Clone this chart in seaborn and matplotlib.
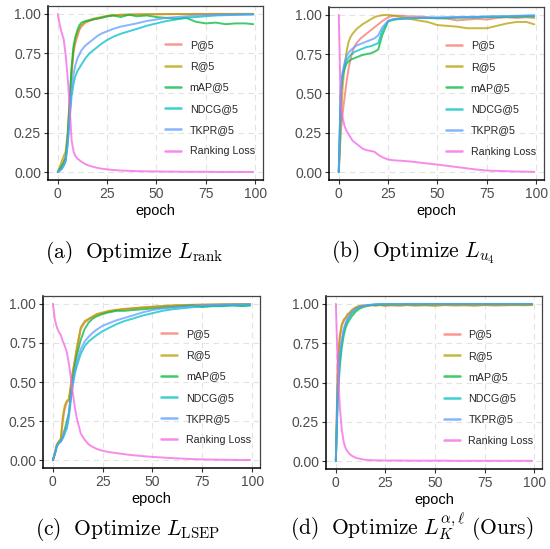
import numpy as np
import pandas as pd
import matplotlib
matplotlib.use("Agg")
import matplotlib.pyplot as plt
import seaborn as sns

# ---------------- data ----------------
epochs = [0, 1, 2, 3, 4, 5, 6, 7, 8, 9, 10, 11, 12, 14, 16, 18, 20, 22, 25, 28,
          32, 36, 40, 45, 50, 55, 60, 65, 70, 75, 80, 85, 90, 95, 99]
series_names = ["P@5", "R@5", "mAP@5", "NDCG@5", "TKPR@5", "Ranking Loss"]
palette = ["#F8766D", "#B79F00", "#00BA38", "#00BFC4", "#619CFF", "#F564E3"]

# (a) Optimize L_rank
a_p = [0, .01, .04, .07, .1, .22, .42, .62, .76, .82, .86, .9, .92, .945, .955, .965, .97, .975, .985, .99,
       .993, .995, .996, .997, .998, .998, .999, .999, .999, .999, 1, 1, 1, 1, 1]
a_r = [0, .03, .07, .1, .13, .25, .45, .65, .78, .84, .88, .91, .93, .95, .96, .97, .975, .98, .988, .992,
       .995, .996, .997, .998, .998, .999, .999, .999, 1, 1, 1, 1, 1, 1, 1]
a_map = [0, .02, .04, .06, .09, .22, .44, .66, .8, .86, .9, .93, .945, .955, .96, .965, .97, .975, .985, .99,
         .98, .995, .985, .99, .98, .975, .97, .975, .95, .94, .945, .935, .94, .94, .935]
a_ndcg = [0, .01, .02, .04, .07, .17, .33, .48, .56, .61, .64, .66, .68, .72, .75, .77, .79, .81, .835, .855,
          .875, .89, .905, .925, .94, .955, .965, .975, .98, .985, .99, .992, .994, .995, .996]
a_tkpr = [0, .01, .02, .04, .07, .18, .36, .53, .62, .68, .72, .745, .77, .8, .82, .84, .86, .875, .89, .905,
          .92, .93, .94, .955, .965, .975, .98, .985, .99, .992, .994, .995, .996, .997, .998]
a_loss = [1, .93, .88, .84, .74, .6, .42, .2, .13, .1, .085, .075, .065, .05, .04, .033, .027, .022, .017, .013,
          .01, .008, .006, .005, .004, .003, .003, .002, .002, .002, .001, .001, .001, .001, .001]

# (b) Optimize L_u4
b_p = [0, .25, .38, .48, .58, .66, .72, .77, .8, .82, .835, .85, .86, .88, .9, .92, .94, .96, .985, .995,
       .995, .99, .99, .985, .98, .975, .965, .97, .975, .97, .98, .985, .98, .985, .98]
b_r = [0, .3, .55, .68, .77, .83, .86, .88, .895, .91, .92, .93, .94, .955, .97, .985, .993, .998, 1, .995,
       .985, .975, .965, .955, .935, .93, .925, .915, .915, .915, .93, .945, .955, .955, .94]
b_map = [0, .5, .62, .66, .69, .705, .715, .72, .725, .73, .735, .74, .745, .75, .755, .765, .78, .87, .96, .97,
         .975, .978, .98, .98, .978, .98, .982, .983, .984, .985, .986, .987, .988, .989, .99]
b_ndcg = [0, .52, .63, .68, .71, .73, .745, .755, .765, .77, .775, .78, .785, .795, .8, .81, .82, .9, .96, .972,
          .976, .978, .98, .98, .98, .982, .984, .985, .986, .988, .99, .99, .992, .994, .995]
b_tkpr = [0, .5, .64, .7, .74, .76, .775, .785, .795, .805, .81, .815, .82, .83, .84, .85, .87, .92, .962, .975,
          .978, .98, .982, .983, .984, .985, .986, .987, .988, .99, .991, .992, .994, .996, .997]
b_loss = [1, .42, .34, .29, .26, .24, .22, .2, .19, .18, .17, .16, .15, .14, .135, .13, .11, .095, .08, .075,
          .072, .068, .062, .055, .048, .04, .032, .024, .016, .01, .008, .006, .004, .003, .002]

# (c) Optimize L_LSEP
c_p = [0, .04, .1, .12, .13, .25, .33, .37, .38, .47, .56, .63, .7, .84, .88, .9, .915, .93, .94, .95,
       .96, .965, .97, .975, .98, .985, .988, .99, .992, .994, .995, .996, .997, .998, .998]
c_r = [0, .05, .1, .12, .14, .28, .35, .38, .39, .48, .57, .64, .72, .85, .89, .905, .92, .935, .945, .955,
       .962, .968, .972, .978, .982, .986, .99, .992, .994, .995, .996, .997, .998, .998, .999]
c_map = [0, .04, .09, .11, .12, .15, .2, .25, .3, .42, .52, .6, .67, .77, .84, .88, .905, .92, .935, .945,
         .955, .955, .96, .965, .97, .975, .98, .985, .99, .98, .985, .985, .99, .985, .99]
c_ndcg = [0, .04, .09, .11, .12, .14, .17, .21, .27, .38, .48, .55, .6, .68, .73, .76, .78, .8, .825, .845,
          .87, .89, .905, .925, .94, .955, .965, .972, .978, .982, .986, .988, .99, .99, .99]
c_tkpr = [0, .04, .09, .11, .12, .15, .19, .2, .3, .4, .5, .57, .63, .71, .76, .79, .815, .835, .86, .875,
          .895, .91, .925, .945, .96, .97, .976, .982, .986, .99, .992, .994, .995, .996, .997]
c_loss = [1, .9, .85, .82, .8, .76, .73, .69, .62, .53, .43, .34, .27, .17, .13, .1, .085, .072, .06, .052,
          .045, .038, .032, .026, .021, .017, .013, .01, .007, .005, .004, .003, .002, .001, .001]

# (d) Optimize L_K^{alpha,l} (Ours)
d_p = [0, .6, .78, .86, .89, .91, .93, .94, .955, .965, .975, .98, .985, .99, .99, .992, .99, .993, .99, .992,
       .99, .993, .99, .992, .99, .993, .991, .992, .99, .993, .991, .992, .993, .992, .993]
d_r = [0, .62, .8, .87, .9, .915, .935, .945, .96, .97, .978, .983, .987, .99, .988, .991, .989, .992, .988, .991,
       .989, .992, .989, .991, .988, .992, .99, .991, .989, .992, .99, .991, .992, .991, .992]
d_map = [0, .4, .6, .72, .8, .85, .88, .9, .92, .935, .95, .96, .97, .98, .988, .993, .995, .996, .997, .997,
         .998, .998, .998, .998, .999, .999, .999, .999, .999, .999, .999, .999, .999, .999, .999]
d_ndcg = [0, .45, .65, .76, .83, .87, .9, .92, .94, .95, .965, .972, .978, .985, .99, .994, .996, .997, .998, .998,
          .998, .999, .999, .999, .999, .999, .999, .999, .999, .999, .999, .999, .999, .999, .999]
d_tkpr = [0, .47, .67, .77, .84, .88, .91, .93, .945, .955, .968, .975, .98, .987, .992, .995, .997, .998, .999, .999,
          .999, 1, 1, 1, 1, 1, 1, 1, 1, 1, 1, 1, 1, 1, 1]
d_loss = [1, .6, .35, .2, .12, .08, .06, .045, .035, .028, .022, .018, .015, .01, .007, .006, .005, .005, .004, .004,
          .004, .003, .003, .003, .003, .003, .002, .002, .002, .002, .002, .002, .002, .002, .002]

captions = [
    r"$\mathrm{(a)\ \ Optimize}\ L_{\mathrm{rank}}$",
    r"$\mathrm{(b)\ \ Optimize}\ L_{u_4}$",
    r"$\mathrm{(c)\ \ Optimize}\ L_{\mathrm{LSEP}}$",
    r"$\mathrm{(d)\ \ Optimize}\ L_K^{\alpha,\ell}\ \mathrm{(Ours)}$",
]
panels = [
    [a_p, a_r, a_map, a_ndcg, a_tkpr, a_loss],
    [b_p, b_r, b_map, b_ndcg, b_tkpr, b_loss],
    [c_p, c_r, c_map, c_ndcg, c_tkpr, c_loss],
    [d_p, d_r, d_map, d_ndcg, d_tkpr, d_loss],
]

# ---------------- style ----------------
sns.set_theme(style="white")
plt.rcParams["font.family"] = ["Liberation Sans", "DejaVu Sans"]
plt.rcParams["mathtext.fontset"] = "cm"

W, H = 550, 549
fig = plt.figure(figsize=(W / 100, H / 100), dpi=100)

# axes boxes in pixels: (left, top, right, bottom)
boxes = [(48, 6, 263, 180), (329, 7, 544, 180), (43, 296, 260, 468), (326, 296, 542, 469)]
caption_pos = [(134, 258), (413, 258), (128, 535), (412, 535)]

for i, (series_vals, box) in enumerate(zip(panels, boxes)):
    l, t, r, b = box
    ax = fig.add_axes([l / W, 1 - b / H, (r - l) / W, (b - t) / H])
    rows = []
    for name, vals in zip(series_names, series_vals):
        for e, v in zip(epochs, vals):
            rows.append({"epoch": e, "value": v, "series": name})
    df = pd.DataFrame(rows)
    sns.lineplot(data=df, x="epoch", y="value", hue="series", hue_order=series_names,
                 palette=palette, linewidth=1.4, alpha=0.75, ax=ax, legend=True)

    ax.set_xlim(-4.95, 103.95)
    ax.set_ylim(-0.05, 1.05)
    ax.set_xticks([0, 25, 50, 75, 100])
    ax.set_yticks([0, 0.25, 0.5, 0.75, 1.0])
    ax.set_yticklabels(["0.00", "0.25", "0.50", "0.75", "1.00"])
    ax.set_xlabel("epoch", fontsize=10.5, color="black", labelpad=2)
    ax.set_ylabel("")
    ax.grid(True, color="#E3E3E3", linewidth=0.8, linestyle=(0, (5, 4)))
    ax.set_axisbelow(True)
    ax.tick_params(axis="both", which="major", labelsize=10, labelcolor="#4D4D4D",
                   color="#333333", length=3, width=0.8, direction="out", pad=2,
                   bottom=True, left=True)
    for s in ["top", "right"]:
        ax.spines[s].set_color("#444444")
        ax.spines[s].set_linewidth(0.9)
    for s in ["left", "bottom"]:
        ax.spines[s].set_color("black")
        ax.spines[s].set_linewidth(1.1)

    handles, labels = ax.get_legend_handles_labels()
    for h in handles:
        h.set_linewidth(1.8)
        h.set_alpha(0.75)
    ax.legend(handles, labels, loc="center left", bbox_to_anchor=(0.545, 0.47),
              frameon=False, fontsize=7.7, handlelength=1.5, handletextpad=0.8,
              labelspacing=1.05, borderpad=0, borderaxespad=0)

    cx, cy = caption_pos[i]
    fig.text(cx / W, 1 - cy / H, captions[i], ha="center", va="baseline", fontsize=15.5, color="black")

fig.savefig("out.png", dpi=100)
